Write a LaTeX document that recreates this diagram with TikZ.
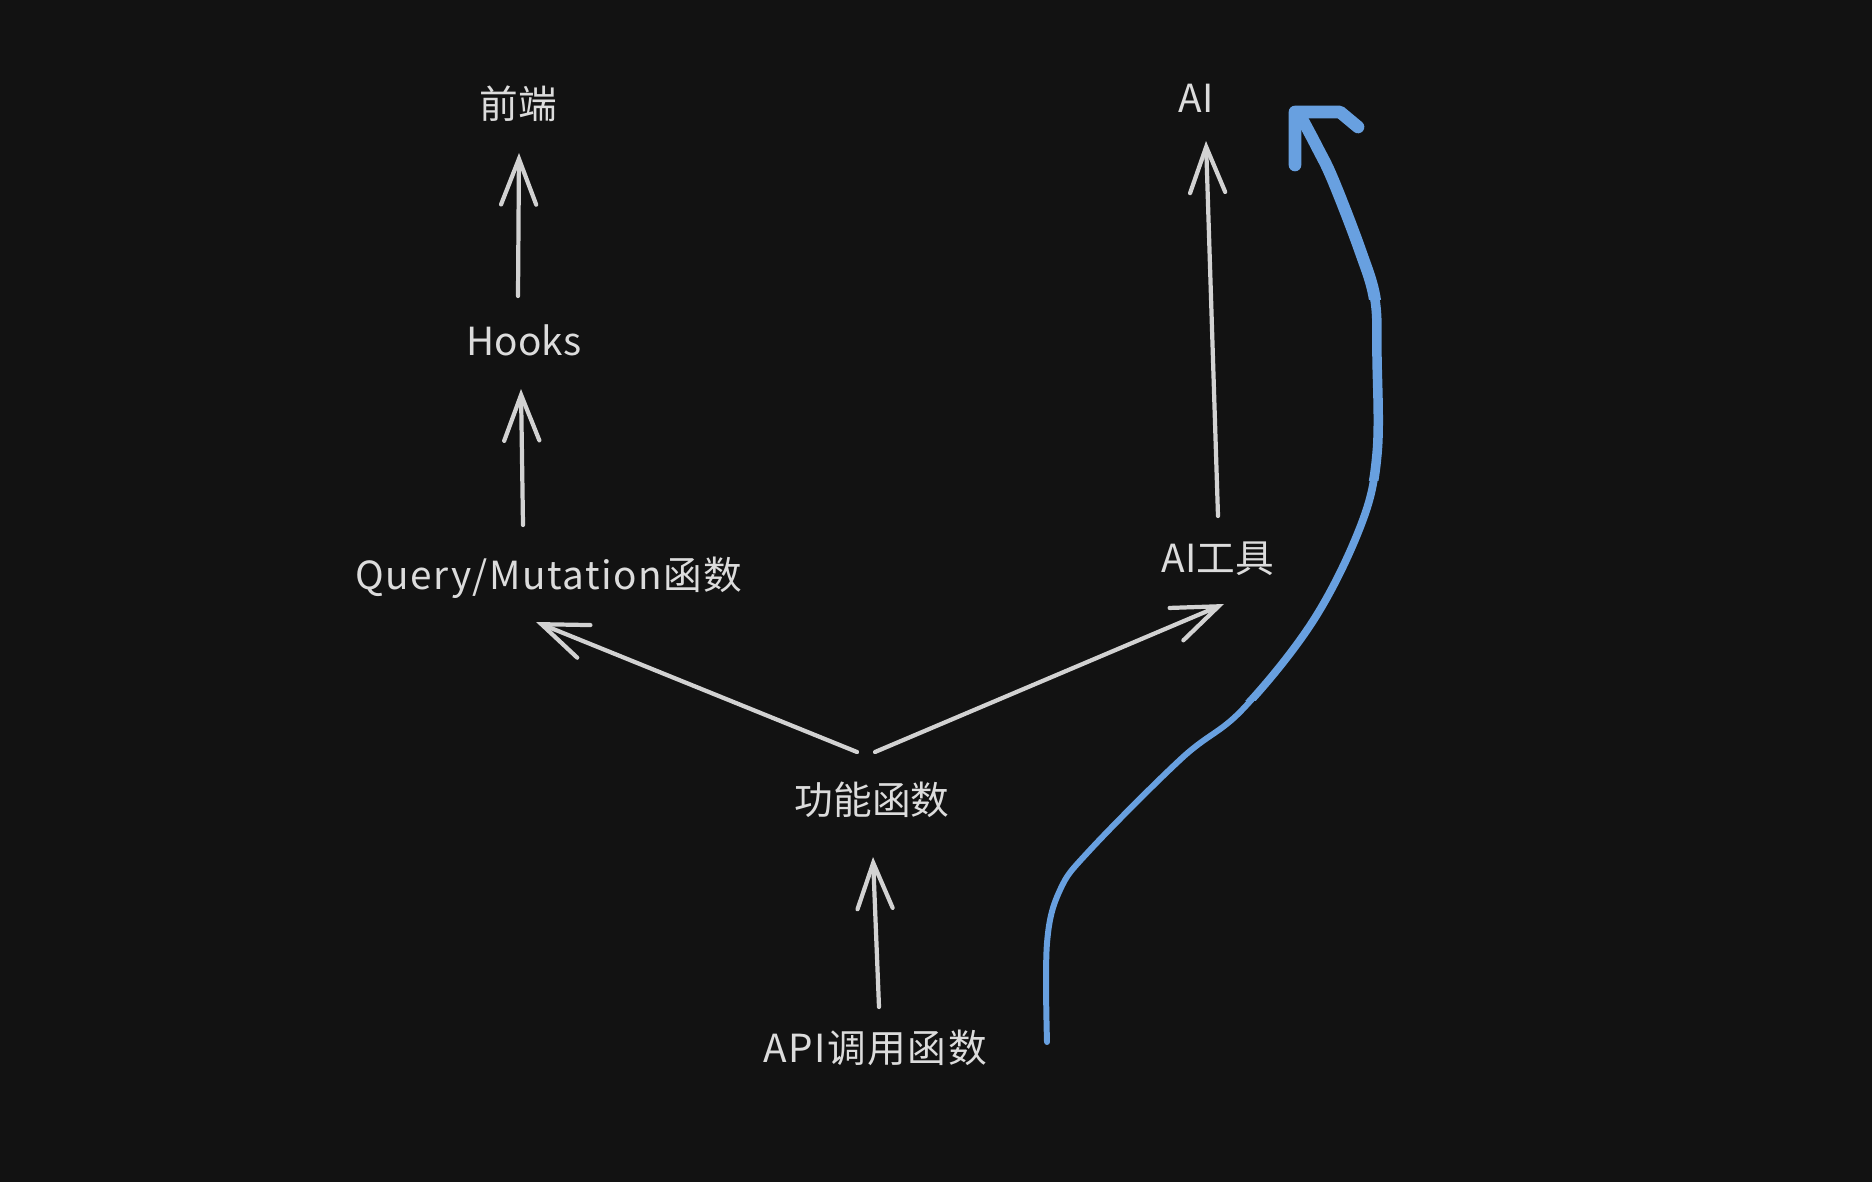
\documentclass[tikz,border=0pt]{standalone}
\usepackage{fontspec}
\setmainfont{Noto Sans CJK SC}
\usepackage{tikz}
\usetikzlibrary{arrows.meta}
\definecolor{bgdark}{HTML}{121212}
\definecolor{linegray}{HTML}{D2D2D2}
\definecolor{textgray}{HTML}{DCDCDC}
\definecolor{penblue}{HTML}{68A0E0}
\newcommand{\penpath}{plot[smooth,tension=0.6] coordinates
    {(penstart) (1047,943) (1060,890) (1090,850) (1182,758) (1242,710) (1313,621)
     (1361,525) (1377,454) (1377,358) (1375,300) (1360,250) (1333,180) (1317,147) (pentip)}}
\begin{document}
\begin{tikzpicture}[x=0.01cm,y=-0.01cm,
                    arr/.style={draw=linegray,line width=1.2pt,line cap=round,
                      -{Straight Barb[length=13pt,width=10pt,line cap=round]}},
                    pen/.style={draw=penblue,line cap=round,line join=round},
                    label node/.style={text=textgray,inner sep=0pt,font=\fontsize{11pt}{13pt}\selectfont}]

  \fill[bgdark] (0,0) rectangle (1872,1182);
  \useasboundingbox (0,0) rectangle (1872,1182);

  \node[label node] (fe)     at (518,104)  {前端};
  \node[label node] (hooks)  at (524,340)  {Hooks};
  \node[label node] (query)  at (549,578)  {\addfontfeature{LetterSpace=4}Query/Mutation函数};
  \node[label node] (ai)     at (1196,98)  {AI};
  \node[label node] (aitool) at (1218,559) {AI工具};
  \node[label node] (func)   at (872,800)  {功能函数};
  \node[label node] (api)    at (875,1048) {\addfontfeature{LetterSpace=4}API调用函数};

  \draw[arr] ([shift={(-6,-44)}]hooks.center) -- ([shift={(1,49)}]fe.center);
  \draw[arr] ([shift={(-26,-53)}]query.center) -- ([shift={(-3,49)}]hooks.center);
  \draw[arr] ([shift={(-15,-48)}]func.center) -- ([shift={(-13,44)}]query.center);
  \draw[arr] ([shift={(3,-48)}]func.center) -- ([shift={(6,45)}]aitool.center);
  \draw[arr] ([shift={(0,-43)}]aitool.center) -- ([shift={(10,43)}]ai.center);
  \draw[arr] ([shift={(4,-41)}]api.center) -- ([shift={(1,57)}]func.center);

  % blue pen stroke, thicker towards the top
  \coordinate (penstart) at (1047,1042);
  \coordinate (pentip)   at (1300,115);
  \draw[pen,line width=1.7pt] \penpath;
  \begin{scope}
    \clip (0,0) rectangle (1872,700);
    \draw[pen,line width=2.2pt] \penpath;
  \end{scope}
  \begin{scope}
    \clip (0,0) rectangle (1872,480);
    \draw[pen,line width=2.7pt] \penpath;
  \end{scope}
  \begin{scope}
    \clip (0,0) rectangle (1872,300);
    \draw[pen,line width=3.4pt] \penpath;
  \end{scope}
  \draw[pen,line width=3.6pt] (1295,165) -- (1295,112) -- (1340,112) -- (1358,127);
\end{tikzpicture}
\end{document}
